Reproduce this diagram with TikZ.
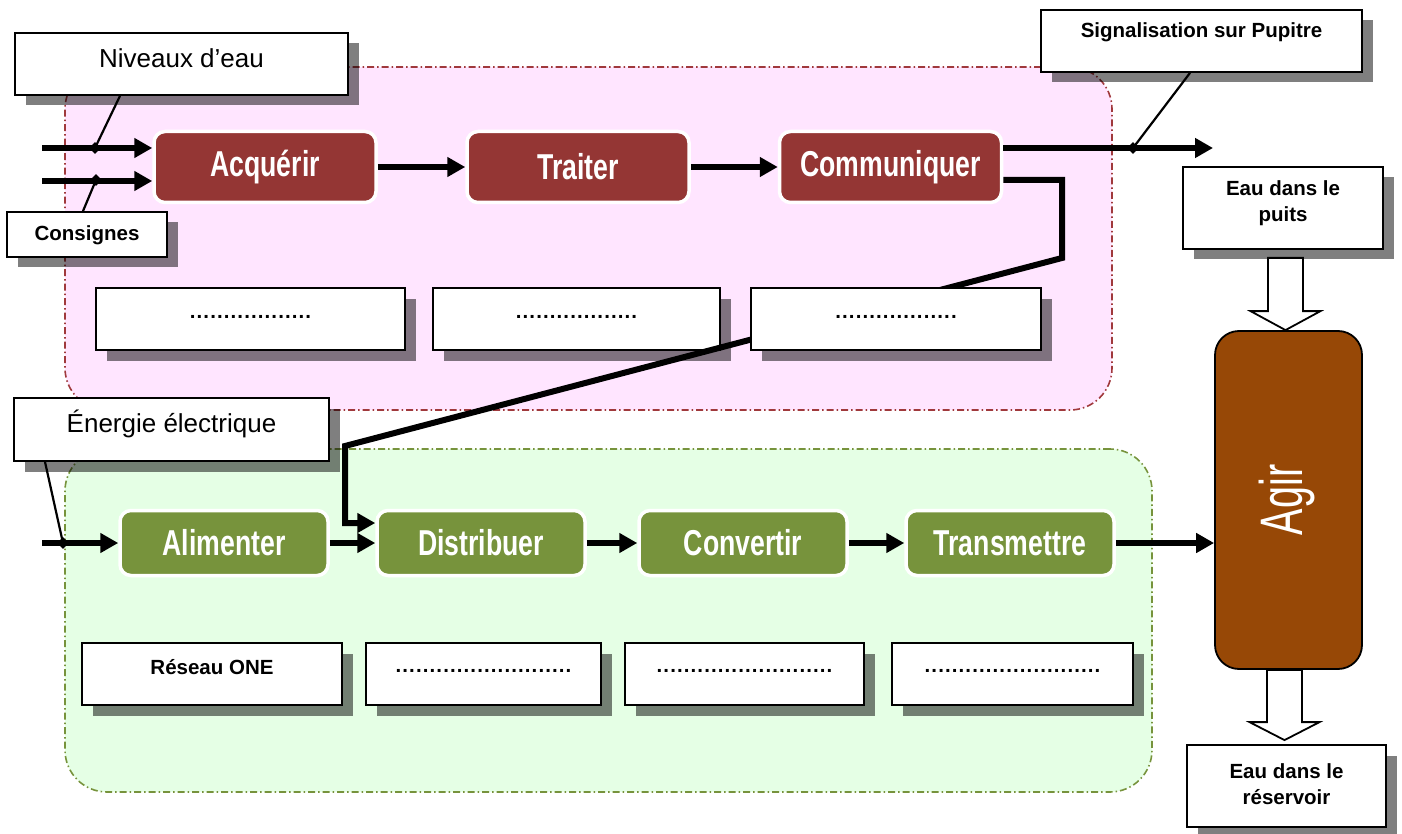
\documentclass[tikz,border=0pt]{standalone}
\usepackage{fontspec}
\setmainfont{Liberation Sans}
\newfontfamily\procfont[FakeStretch=0.74]{Liberation Sans}
\newfontfamily\agirfont[FakeStretch=0.66]{Liberation Sans}
\usetikzlibrary{arrows.meta,shadows,shapes.geometric,calc}

\definecolor{zonepink}{HTML}{FFE5FF}
\definecolor{zonepinkedge}{HTML}{A0393C}
\definecolor{zonegreen}{HTML}{E5FFE5}
\definecolor{zonegreenedge}{HTML}{77933C}
\definecolor{procred}{HTML}{943634}
\definecolor{procgreen}{HTML}{77933C}
\definecolor{agirbrown}{HTML}{974806}

% a row of evenly spaced dots to be filled in
\newcommand{\dotrow}[1]{\foreach \k in {1,...,#1}{\makebox[6.8pt]{.}}}

\tikzset{
  zone/.style={rectangle, rounded corners=42pt, line width=1.6pt,
    dash pattern=on 7pt off 3pt on 1.5pt off 3pt, inner sep=0pt},
  wbox/.style={rectangle, draw=black, fill=white, line width=1.8pt, inner sep=0pt,
    drop shadow={shadow xshift=10.5pt, shadow yshift=-10.5pt, fill=black, opacity=0.5}},
  lbl/.style={font=\fontsize{20.5}{26}\selectfont\bfseries, align=center, inner sep=0pt},
  biglbl/.style={font=\fontsize{26}{30}\selectfont, inner sep=0pt},
  proc/.style={rectangle, rounded corners=11pt, draw=white, line width=3.5pt,
    text=white, font=\procfont\bfseries\fontsize{36}{40}\selectfont, inner sep=0pt},
  flow/.style={line width=6pt, -{Triangle[length=18pt,width=19pt]}},
  link/.style={line width=6pt},
  callout/.style={line width=2.2pt},
  tick/.style={diamond, fill=black, inner sep=0pt, minimum size=12pt},
  hollow/.style={draw=black, fill=white, line width=1.8pt, line join=miter},
}

\begin{document}
\begin{tikzpicture}[x=1pt, y=1pt]
\useasboundingbox (0,0) rectangle (1402,-834);

% --- the two functional zones
\node[zone, fill=zonepink, draw=zonepinkedge, minimum width=1047pt, minimum height=343pt]
  (zoneinfo) at (588.5,-238.5) {};
\node[zone, fill=zonegreen, draw=zonegreenedge, minimum width=1087pt, minimum height=343pt]
  (zoneenergy) at (608.5,-620.5) {};

% --- labelled boxes
\node[wbox, minimum width=333pt, minimum height=62pt,
  label={[biglbl, yshift=6pt]center:Niveaux d’eau}] (niv) at (181.5,-64) {};
\node[wbox, minimum width=160pt, minimum height=45pt,
  label={[lbl, yshift=-1pt]center:Consignes}] (cons) at (87,-234.5) {};
\node[wbox, minimum width=321pt, minimum height=62pt,
  label={[lbl, yshift=9pt]center:Signalisation sur Pupitre}] (sig) at (1201.5,-41) {};
\node[wbox, minimum width=200pt, minimum height=82pt,
  label={[lbl, yshift=5pt]center:Eau dans le\\puits}] (puits) at (1283,-208) {};
\node[wbox, minimum width=199pt, minimum height=82pt,
  label={[lbl, yshift=2pt]center:Eau dans le\\réservoir}] (res) at (1286.5,-786) {};
\node[wbox, minimum width=315pt, minimum height=63pt,
  label={[biglbl, yshift=5.5pt]center:Énergie électrique}] (ener) at (171.5,-429.5) {};

% --- solution boxes of the information chain
\node[wbox, minimum width=309pt, minimum height=62pt,
  label={[lbl, yshift=2pt]center:\dotrow{18}}] (solA) at (250.5,-319) {};
\node[wbox, minimum width=287pt, minimum height=62pt,
  label={[lbl, yshift=2pt]center:\dotrow{18}}] (solB) at (576.5,-319) {};

% --- solution boxes of the energy chain
\node[wbox, minimum width=260pt, minimum height=62pt,
  label={[lbl, yshift=7pt]center:Réseau ONE}] (solD) at (212,-674) {};
\node[wbox, minimum width=235pt, minimum height=62pt,
  label={[lbl, yshift=3pt]center:\dotrow{26}}] (solE) at (483.5,-674) {};
\node[wbox, minimum width=239pt, minimum height=62pt,
  label={[lbl, yshift=3pt]center:\dotrow{26}}] (solF) at (744.5,-674) {};
\node[wbox, minimum width=241pt, minimum height=62pt,
  label={[lbl, yshift=3pt]center:\dotrow{26}}] (solG) at (1012.5,-674) {};

% --- functions
\node[proc, fill=procred, minimum width=222pt, minimum height=71pt] (acq) at (265,-167) {Acquérir};
\node[proc, fill=procred, minimum width=222pt, minimum height=71pt] (trait) at (578,-167) {Traiter};
\node[proc, fill=procred, minimum width=222pt, minimum height=71pt] (comm) at (890.5,-167) {Communiquer};

\node[proc, fill=procgreen, minimum width=208pt, minimum height=65pt] (alim) at (224,-543) {Alimenter};
\node[proc, fill=procgreen, minimum width=208pt, minimum height=65pt] (dist) at (481,-543) {Distribuer};
\node[proc, fill=procgreen, minimum width=208pt, minimum height=65pt] (conv) at (743,-543) {Convertir};
\node[proc, fill=procgreen, minimum width=208pt, minimum height=65pt] (trans) at (1010,-543) {Transmettre};

\node[rectangle, rounded corners=24pt, draw=black, line width=1.8pt, fill=agirbrown,
  minimum width=147pt, minimum height=338pt, inner sep=0pt,
  label={[rotate=90, text=white, font=\agirfont\fontsize{60}{66}\selectfont, yshift=2pt]center:Agir}]
  (agir) at (1288.5,-500) {};

% --- free ends of the flows
\coordinate (in1) at (42,-148);
\coordinate (in2) at (42,-181);
\coordinate (in3) at (42,-543);
\coordinate (sigtip) at (1213,-148);
\coordinate (bendA) at (1062,-258);
\coordinate (bendB) at (345,-446);

% --- information chain flows
\draw[flow] (in1) -- (in1 -| acq.west);
\draw[flow] (in2) -- (in2 -| acq.west);
\draw[flow] (acq) -- (trait);
\draw[flow] (trait) -- (comm);
\draw[flow] ([yshift=19pt]comm.east) -- (sigtip);

% --- order from the information chain to the energy chain
\draw[link, -{Triangle[length=18pt,width=19pt]}]
  ([yshift=-13pt]comm.east) -| (bendA) -- (bendB) |- ([yshift=20pt]dist.west);

% solution box drawn over the order line
\node[wbox, minimum width=290pt, minimum height=62pt,
  label={[lbl, yshift=2pt]center:\dotrow{18}}] (solC) at (896,-319) {};

% --- energy chain flows
\draw[flow] (in3) -- (alim.west);
\draw[flow] (alim) -- (dist);
\draw[flow] (dist) -- (conv);
\draw[flow] (conv) -- (trans);
\draw[flow] (trans.east) -- (trans.east -| agir.west);

% --- callouts
\node[tick] (tn) at (95,-148) {};
\node[tick] (tc) at (96,-180) {};
\node[tick] (ts) at (1133,-148) {};
\node[tick] (te) at (63,-543) {};
\draw[callout] ([xshift=-61.5pt]niv.south) -- (tn.center);
\draw[callout] ([xshift=-4pt]cons.north) -- (tc.center);
\draw[callout] ([xshift=-11.5pt]sig.south) -- (ts.center);
\draw[callout] ([xshift=-126.5pt]ener.south) -- (te.center);

% --- matter flow through the pump
\draw[hollow] let \p1=(agir.north), \p2=(puits.south) in
  (\x1-20.5pt,\y2-8pt) -- (\x1+14.5pt,\y2-8pt) -- (\x1+14.5pt,\y1+19pt)
  -- (\x1+32pt,\y1+19pt) -- (\x1-3pt,\y1) -- (\x1-38pt,\y1+19pt)
  -- (\x1-20.5pt,\y1+19pt) -- cycle;
\draw[hollow] let \p1=(agir.south), \p2=(res.north) in
  (\x1-21.5pt,\y1) -- (\x1+13.5pt,\y1) -- (\x1+13.5pt,\y2+22pt)
  -- (\x1+31pt,\y2+22pt) -- (\x1-4pt,\y2+4pt) -- (\x1-39pt,\y2+22pt)
  -- (\x1-21.5pt,\y2+22pt) -- cycle;
\end{tikzpicture}
\end{document}
